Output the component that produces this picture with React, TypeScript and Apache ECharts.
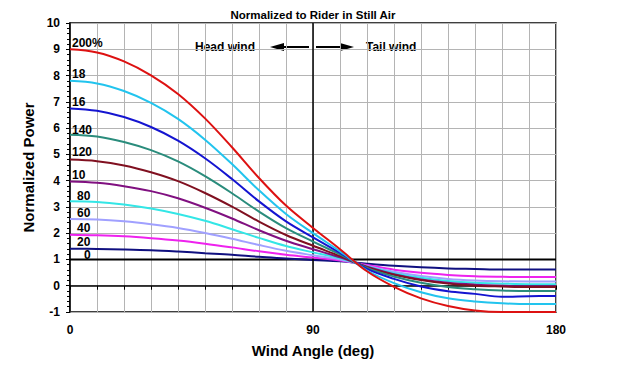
import React, { useEffect, useRef } from "react";
import * as echarts from "echarts";

const angles = [0, 10, 20, 30, 40, 50, 60, 70, 80, 90, 100, 110, 120, 130, 140, 150, 160, 170, 180];

const wind0 = [1, 1, 1, 1, 1, 1, 1, 1, 1, 1, 1, 1, 1, 1, 1, 1, 1, 1, 1];
const wind20 = [1.41, 1.4, 1.38, 1.35, 1.3, 1.24, 1.18, 1.1, 1.04, 0.98, 0.93, 0.84, 0.76, 0.7, 0.66, 0.64, 0.62, 0.62, 0.62];
const wind40 = [1.94, 1.92, 1.88, 1.81, 1.72, 1.6, 1.46, 1.31, 1.18, 1.07, 0.96, 0.79, 0.61, 0.49, 0.41, 0.36, 0.34, 0.33, 0.33];
const wind60 = [2.54, 2.52, 2.45, 2.34, 2.2, 2.01, 1.79, 1.55, 1.33, 1.16, 1.0, 0.75, 0.53, 0.37, 0.26, 0.2, 0.17, 0.16, 0.16];
const wind80 = [3.22, 3.19, 3.09, 2.94, 2.73, 2.47, 2.15, 1.82, 1.51, 1.27, 1.04, 0.73, 0.48, 0.3, 0.18, 0.11, 0.08, 0.06, 0.06];
const wind100 = [3.97, 3.92, 3.79, 3.6, 3.33, 2.97, 2.56, 2.11, 1.71, 1.39, 1.08, 0.72, 0.44, 0.24, 0.11, 0.04, 0.0, -0.02, -0.02];
const wind120 = [4.8, 4.74, 4.58, 4.32, 3.98, 3.53, 3.01, 2.44, 1.93, 1.52, 1.13, 0.71, 0.42, 0.22, 0.08, 0.0, -0.03, -0.05, -0.05];
const wind140 = [5.75, 5.68, 5.47, 5.16, 4.73, 4.17, 3.52, 2.82, 2.19, 1.68, 1.19, 0.68, 0.35, 0.11, -0.05, -0.13, -0.18, -0.2, -0.2];
const wind160 = [6.75, 6.66, 6.42, 6.04, 5.52, 4.85, 4.06, 3.21, 2.45, 1.84, 1.25, 0.64, 0.26, -0.03, -0.21, -0.31, -0.42, -0.4, -0.39];
const wind180 = [7.8, 7.7, 7.41, 6.96, 6.35, 5.56, 4.63, 3.63, 2.73, 2.0, 1.31, 0.58, 0.1, -0.25, -0.48, -0.6, -0.67, -0.7, -0.7];
const wind200 = [9.0, 8.88, 8.54, 8.01, 7.3, 6.37, 5.27, 4.1, 3.05, 2.2, 1.39, 0.55, -0.04, -0.48, -0.77, -0.94, -1.0, -1.0, -1.0];

const seriesNames = ["0%", "20%", "40%", "60%", "80%", "100%", "120%", "140%", "160%", "180%", "200%"];
const seriesValues = [wind0, wind20, wind40, wind60, wind80, wind100, wind120, wind140, wind160, wind180, wind200];
const seriesColors = ["#000000", "#101080", "#ee22ee", "#a0a0ff", "#33e6e6", "#801080", "#801020", "#2a8c7c", "#1414d0", "#22c4ee", "#dd1111"];

const curveLabels = ["200%", "18", "16", "140", "120", "10", "80", "60", "40", "20", "0"];
const curveLabelPos: [number, number][] = [
  [72, 43], [72, 74], [72, 102], [72, 130], [72, 152], [72, 175], [77, 196], [77, 213], [77, 228], [77, 242], [84, 255],
];

const yTickLabels = [-1, 0, 1, 2, 3, 4, 5, 6, 7, 8, 9, 10];
const xTickLabels = [0, 90, 180];

const FONT = "'Liberation Sans', Arial, sans-serif";

export default function App() {
  const ref = useRef<HTMLDivElement>(null);
  useEffect(() => {
    if (!ref.current) return;
    const chart = echarts.init(ref.current, undefined, { renderer: "svg" });
    const series: any[] = seriesNames.map((name, i) => ({
      name,
      type: "line",
      data: angles.map((a, j) => [a, seriesValues[i][j]]),
      showSymbol: false,
      smooth: 0.35,
      lineStyle: { color: seriesColors[i], width: 2 },
      itemStyle: { color: seriesColors[i] },
      z: 3 + i,
    }));
    series[0].markLine = {
      silent: true,
      symbol: ["none", "none"],
      label: { show: false },
      lineStyle: { color: "#000", width: 1.5, type: "solid" },
      data: [{ xAxis: 90 }],
    };
    const graphic: any[] = [
      {
        type: "text",
        x: 313,
        y: 15,
        style: { text: "Normalized to Rider in Still Air", font: `bold 11.5px ${FONT}`, fill: "#000", textAlign: "center", textVerticalAlign: "middle" },
      },
      {
        type: "text",
        x: 195,
        y: 47,
        style: { text: "Head wind", font: `bold 12px ${FONT}`, fill: "#000", textAlign: "left", textVerticalAlign: "middle" },
      },
      {
        type: "text",
        x: 366,
        y: 47,
        style: { text: "Tail wind", font: `bold 12px ${FONT}`, fill: "#000", textAlign: "left", textVerticalAlign: "middle" },
      },
      { type: "line", shape: { x1: 309, y1: 47, x2: 282, y2: 47 }, style: { stroke: "#000", lineWidth: 2 } },
      { type: "polygon", shape: { points: [[270, 47], [284, 43], [284, 51]] }, style: { fill: "#000" } },
      { type: "line", shape: { x1: 316, y1: 47, x2: 342, y2: 47 }, style: { stroke: "#000", lineWidth: 2 } },
      { type: "polygon", shape: { points: [[354, 47], [340, 43], [340, 51]] }, style: { fill: "#000" } },
      ...curveLabels.map((t, i) => ({
        type: "text",
        x: curveLabelPos[i][0],
        y: curveLabelPos[i][1],
        z: 100,
        style: { text: t, font: `bold 12px ${FONT}`, fill: "#000", textAlign: "left", textVerticalAlign: "middle" },
      })),
    ];
    chart.setOption({
      animation: false,
      backgroundColor: "#ffffff",
      grid: { left: 70, right: 81, top: 23, bottom: 70, show: true, borderColor: "#000", borderWidth: 1.5, backgroundColor: "transparent" },
      xAxis: {
        type: "value",
        min: 0,
        max: 180,
        interval: 10,
        name: "Wind Angle (deg)",
        nameLocation: "middle",
        nameGap: 31,
        nameTextStyle: { fontFamily: FONT, fontWeight: "bold", fontSize: 15, color: "#000" },
        axisLine: { show: true, lineStyle: { color: "#000", width: 1.5 } },
        axisTick: { show: true, length: 4, lineStyle: { color: "#000" } },
        axisLabel: {
          margin: 12,
          fontFamily: FONT,
          fontWeight: "bold",
          fontSize: 12,
          color: "#000",
          formatter: (v: number) => (xTickLabels.indexOf(v) >= 0 ? String(v) : ""),
        },
        splitLine: { show: true, lineStyle: { color: "#b4b4b4", width: 1 } },
      },
      yAxis: {
        type: "value",
        min: -1,
        max: 10,
        interval: 1,
        name: "Normalized Power",
        nameLocation: "middle",
        nameGap: 22,
        nameTextStyle: { fontFamily: FONT, fontWeight: "bold", fontSize: 15, color: "#000" },
        axisLine: { show: true, lineStyle: { color: "#000", width: 1.5 } },
        axisTick: { show: true, length: 4, lineStyle: { color: "#000" } },
        minorTick: { show: true, splitNumber: 5, length: 3, lineStyle: { color: "#000" } },
        axisLabel: {
          margin: 10,
          fontFamily: FONT,
          fontWeight: "bold",
          fontSize: 12,
          color: "#000",
          formatter: (v: number) => (yTickLabels.indexOf(v) >= 0 ? String(v) : ""),
        },
        splitLine: { show: true, lineStyle: { color: "#b4b4b4", width: 1 } },
      },
      series,
      graphic,
    });
    return () => chart.dispose();
  }, []);
  return <div ref={ref} style={{ position: "fixed", left: 0, top: 0, width: 637, height: 382, background: "#fff" }} />;
}
